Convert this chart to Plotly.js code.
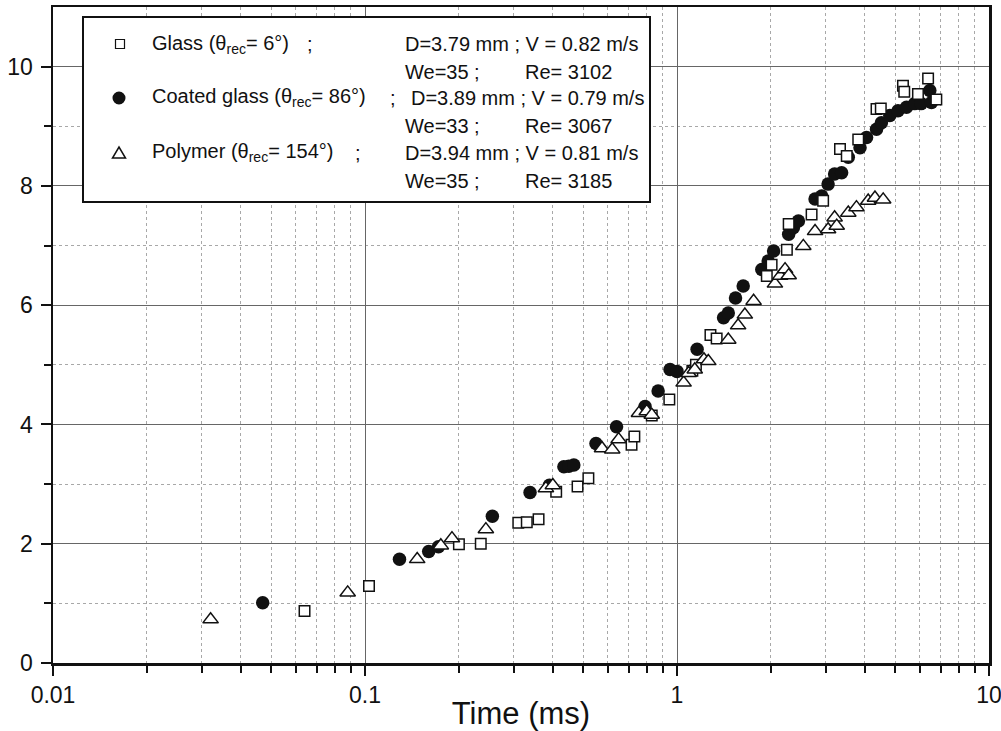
<!DOCTYPE html>
<html>
<head>
<meta charset="utf-8">
<script src="https://cdn.plot.ly/plotly-3.0.1.min.js"></script>
<style>
  html, body { margin: 0; padding: 0; background: #fff; }
  #chart { width: 1001px; height: 731px; }
</style>
</head>
<body>
<div id="chart"></div>
<script>
// Spreading diameter versus time for three substrates (log time axis)
const glassTime = [0.064, 0.103, 0.2, 0.235, 0.31, 0.33, 0.36, 0.41, 0.48, 0.52, 0.715, 0.73, 0.83, 0.945,
  1.12, 1.15, 1.28, 1.34, 1.94, 2.01, 2.25, 2.28, 2.7, 2.94, 3.33, 3.5, 3.81, 4.36, 4.5, 5.3, 5.35, 5.92, 6.38, 6.78];
const glassD = [0.87, 1.29, 1.99, 2.0, 2.35, 2.36, 2.41, 2.87, 2.96, 3.1, 3.66, 3.8, 4.15, 4.42,
  4.9, 5.0, 5.5, 5.44, 6.49, 6.68, 6.93, 7.36, 7.52, 7.75, 8.62, 8.5, 8.78, 9.29, 9.3, 9.68, 9.58, 9.54, 9.8, 9.45];

const coatedTime = [0.047, 0.129, 0.16, 0.172, 0.256, 0.338, 0.39, 0.434, 0.45, 0.467, 0.55, 0.64, 0.79, 0.87,
  0.95, 1.0, 1.16, 1.41, 1.46, 1.54, 1.63, 1.87, 1.96, 2.04, 2.28, 2.36, 2.45, 2.77, 2.91, 3.05, 3.2, 3.37,
  3.54, 3.86, 4.05, 4.36, 4.52, 4.81, 5.11, 5.44, 5.78, 6.06, 6.46, 6.54];
const coatedD = [1.01, 1.74, 1.87, 1.95, 2.46, 2.86, 2.98, 3.29, 3.3, 3.32, 3.68, 3.96, 4.3, 4.56,
  4.92, 4.89, 5.26, 5.79, 5.87, 6.12, 6.32, 6.6, 6.74, 6.91, 7.19, 7.3, 7.41, 7.78, 7.83, 8.03, 8.2, 8.22,
  8.48, 8.64, 8.81, 8.95, 9.06, 9.18, 9.26, 9.32, 9.38, 9.38, 9.6, 9.4];

const polymerTime = [0.032, 0.088, 0.147, 0.175, 0.19, 0.244, 0.38, 0.40, 0.575, 0.62, 0.65, 0.755, 0.8, 0.83,
  1.05, 1.09, 1.14, 1.22, 1.26, 1.46, 1.57, 1.65, 1.76, 2.06, 2.14, 2.22, 2.28, 2.54, 2.77, 3.05, 3.2, 3.25,
  3.54, 3.76, 4.1, 4.31, 4.58];
const polymerD = [0.73, 1.18, 1.74, 1.97, 2.09, 2.24, 2.93, 2.98, 3.6, 3.58, 3.75, 4.19, 4.22, 4.16,
  4.7, 4.86, 4.92, 5.09, 5.06, 5.42, 5.66, 5.84, 6.07, 6.36, 6.49, 6.6, 6.5, 6.99, 7.24, 7.27, 7.47, 7.33,
  7.55, 7.64, 7.75, 7.8, 7.77];

const xTickVals = [0.01, 0.1, 1, 10];
const xTickText = ['0.01', '0.1', '1', '10'];
const xMinorVals = [0.02, 0.03, 0.04, 0.05, 0.06, 0.07, 0.08, 0.09,
  0.2, 0.3, 0.4, 0.5, 0.6, 0.7, 0.8, 0.9, 2, 3, 4, 5, 6, 7, 8, 9];
const yTickVals = [0, 2, 4, 6, 8, 10];
const yMinorVals = [1, 3, 5, 7, 9];

// legend block text
const legendLeft = ['Glass (θ<sub>rec</sub>= 6°)', 'Coated glass (θ<sub>rec</sub>= 86°)', 'Polymer (θ<sub>rec</sub>= 154°)'];
const legendDV = ['D=3.79 mm ; V = 0.82 m/s', 'D=3.89 mm ; V = 0.79 m/s', 'D=3.94 mm ; V = 0.81 m/s'];
const legendWe = ['We=35 ;', 'We=33 ;', 'We=35 ;'];
const legendRe = ['Re= 3102', 'Re= 3067', 'Re= 3185'];

const FONT = 'Liberation Sans, Arial, Helvetica, sans-serif';
const INK = '#111';

// plot area in pixels: x 53..989, y 7..663
const xp = px => (px - 53) / 936;
const yp = py => (663 - py) / 656;

const traces = [
  {
    x: coatedTime, y: coatedD, type: 'scatter', mode: 'markers', name: 'Coated glass',
    marker: { symbol: 'circle', size: 13.5, color: INK, line: { width: 0 } }
  },
  {
    x: glassTime, y: glassD, type: 'scatter', mode: 'markers', name: 'Glass',
    marker: { symbol: 'square', size: 10.5, color: '#fff', line: { width: 1.5, color: INK } }
  },
  {
    x: polymerTime, y: polymerD, type: 'scatter', mode: 'markers', name: 'Polymer',
    marker: { symbol: 'triangle-up', size: 13.5, color: '#fff', line: { width: 1.5, color: INK } }
  }
];

const rowY = [44, 98, 153];
const annotations = [];
const semiX = [305, 388, 353];
const dvX = [403, 409, 403];
for (let i = 0; i < 3; i++) {
  const base = { xref: 'paper', yref: 'paper', xanchor: 'left', yanchor: 'middle', showarrow: false,
    font: { family: FONT, size: 20, color: INK } };
  annotations.push(Object.assign({}, base, { x: xp(150), y: yp(rowY[i]), text: legendLeft[i] }));
  annotations.push(Object.assign({}, base, { x: xp(semiX[i]), y: yp(rowY[i]), text: ';' }));
  annotations.push(Object.assign({}, base, { x: xp(dvX[i]), y: yp(rowY[i]), text: legendDV[i] }));
  annotations.push(Object.assign({}, base, { x: xp(403), y: yp(rowY[i] + 28), text: legendWe[i] }));
  annotations.push(Object.assign({}, base, { x: xp(523), y: yp(rowY[i] + 28), text: legendRe[i] }));
}

const shapes = [
  { type: 'rect', xref: 'paper', yref: 'paper', x0: xp(83), x1: xp(650), y0: yp(202), y1: yp(17),
    fillcolor: '#fff', line: { color: INK, width: 2 }, layer: 'above' },
  { type: 'rect', xref: 'paper', yref: 'paper', xsizemode: 'pixel', ysizemode: 'pixel',
    xanchor: xp(120), yanchor: yp(rowY[0]), x0: -4.5, x1: 4.5, y0: -4.5, y1: 4.5,
    fillcolor: '#fff', line: { color: INK, width: 1.2 }, layer: 'above' },
  { type: 'circle', xref: 'paper', yref: 'paper', xsizemode: 'pixel', ysizemode: 'pixel',
    xanchor: xp(119), yanchor: yp(rowY[1]), x0: -6.5, x1: 6.5, y0: -6.5, y1: 6.5,
    fillcolor: INK, line: { color: INK, width: 0 }, layer: 'above' },
  { type: 'path', xref: 'paper', yref: 'paper', xsizemode: 'pixel', ysizemode: 'pixel',
    xanchor: xp(119), yanchor: yp(rowY[2]), path: 'M-6.5,-5 L6.5,-5 L0,6 Z',
    fillcolor: '#fff', line: { color: INK, width: 1.5 }, layer: 'above' }
];

const axisCommon = {
  showline: true, linewidth: 2.5, linecolor: INK, mirror: true,
  ticks: 'outside', ticklen: 10, tickwidth: 2, tickcolor: INK,
  showgrid: true, gridcolor: '#666', gridwidth: 1, zeroline: false,
  ticklabeloverflow: 'allow',
  tickfont: { family: FONT, size: 23, color: INK }
};

const layout = {
  width: 1001, height: 731,
  margin: { l: 53, r: 12, t: 7, b: 68, pad: 0 },
  paper_bgcolor: '#fff', plot_bgcolor: '#fff',
  showlegend: false,
  font: { family: FONT, color: INK },
  xaxis: Object.assign({}, axisCommon, {
    type: 'log', range: [-2, 1],
    tickmode: 'array', tickvals: xTickVals, ticktext: xTickText,
    ticklabelstandoff: 0,
    minor: { tickmode: 'array', tickvals: xMinorVals, ticks: 'outside', ticklen: 7, tickwidth: 2,
      tickcolor: INK, showgrid: true, gridcolor: '#a8a8a8', gridwidth: 1, griddash: 'dot' },
    title: { text: 'Time (ms)', font: { family: FONT, size: 31, color: INK }, standoff: 0 }
  }),
  yaxis: Object.assign({}, axisCommon, {
    range: [0, 11],
    tickmode: 'array', tickvals: yTickVals,
    ticklabelstandoff: 3,
    minor: { tickmode: 'array', tickvals: yMinorVals, ticks: 'outside', ticklen: 7, tickwidth: 2,
      tickcolor: INK, showgrid: true, gridcolor: '#a8a8a8', gridwidth: 1, griddash: 'dot' }
  }),
  annotations: annotations,
  shapes: shapes
};

Plotly.newPlot('chart', traces, layout, { displayModeBar: false, staticPlot: true });
</script>
</body>
</html>
